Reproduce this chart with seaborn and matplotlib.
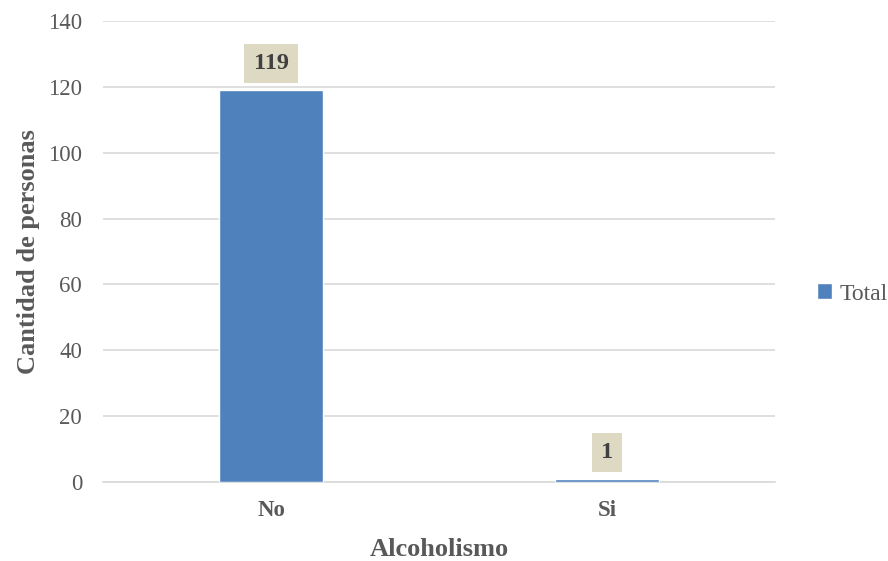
import matplotlib
matplotlib.use("Agg")
import matplotlib.pyplot as plt
import seaborn as sns
import pandas as pd

categories = ["No", "Si"]
totals = [119, 1]
y_ticks = [0, 20, 40, 60, 80, 100, 120, 140]

df = pd.DataFrame({"Alcoholismo": categories, "Total": totals})

sns.set_theme(style="white")
plt.rcParams["font.family"] = ["Liberation Serif", "DejaVu Serif"]

text_gray = "#595959"
fig = plt.figure(figsize=(8.88, 5.61), dpi=100)
ax = fig.add_axes([0.116, 0.1408, 0.757, 0.8218])

bar_color = "#4F81BD"
sns.barplot(data=df, x="Alcoholismo", y="Total", color=bar_color,
            width=0.31, saturation=1, ax=ax, zorder=3, label="Total")

ax.set_ylim(0, 140)
ax.set_xlim(-0.5, 1.5)
ax.set_yticks(y_ticks)
ax.set_yticklabels([str(t) for t in y_ticks], fontsize=16.5, color=text_gray)
ax.set_xticks(range(len(categories)))
ax.set_xticklabels(categories, fontsize=16.5, fontweight="bold", color=text_gray)
ax.tick_params(axis="y", length=0, pad=15)
ax.tick_params(axis="x", length=0, pad=13)

ax.yaxis.grid(True, color="#D9D9D9", linewidth=1.2, zorder=0)
ax.set_axisbelow(True)
for side in ["top", "right", "left"]:
    ax.spines[side].set_visible(False)
ax.spines["bottom"].set_color("#D9D9D9")
ax.spines["bottom"].set_linewidth(1.2)

ax.set_xlabel("Alcoholismo", fontsize=19, fontweight="bold", color=text_gray, labelpad=12)
ax.set_ylabel("Cantidad de personas", fontsize=19, fontweight="bold", color=text_gray, labelpad=6)

for i, v in enumerate(totals):
    ax.annotate(str(v), xy=(i, v), xytext=(0, 19), textcoords="offset points",
                ha="center", va="center", fontsize=17.5, fontweight="bold",
                color="#404040",
                bbox=dict(boxstyle="square,pad=0.38", facecolor="#DDD9C3",
                          edgecolor="none"))

leg = ax.legend(loc="center left", bbox_to_anchor=(817 / 888, 1 - 294 / 561),
                bbox_transform=fig.transFigure, frameon=False,
                fontsize=17, handlelength=0.65, handleheight=0.65,
                handletextpad=0.3, borderaxespad=0, borderpad=0)
for t in leg.get_texts():
    t.set_color(text_gray)

fig.savefig("out.png", dpi=100)
